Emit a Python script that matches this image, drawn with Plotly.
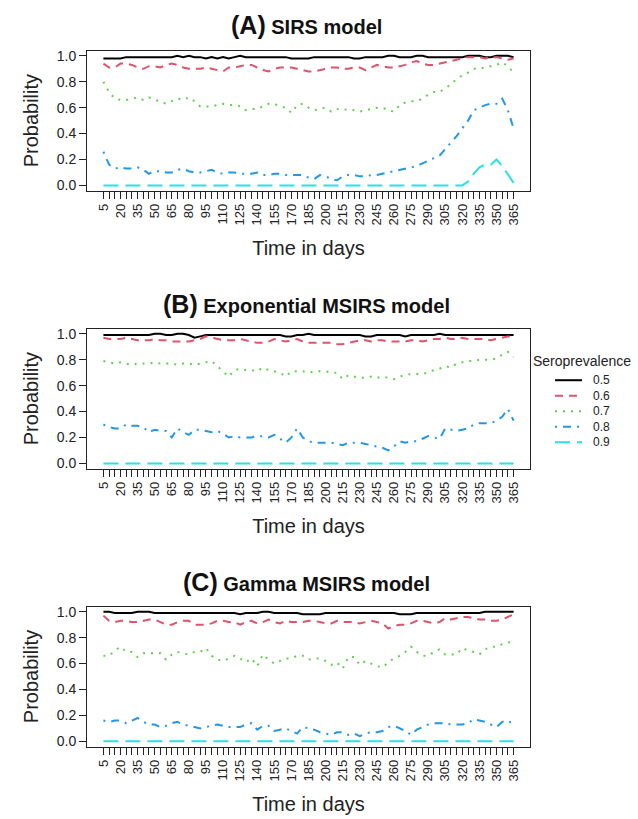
import plotly.graph_objects as go

days = list(range(5, 370, 5))  # 73 time points
tick_labels = [str(d) if (d - 5) % 15 == 0 else "" for d in days]

series_names = ["0.5", "0.6", "0.7", "0.8", "0.9"]
panel_titles = ["(A)|SIRS model", "(B)|Exponential MSIRS model", "(C)|Gamma MSIRS model"]

# ---------------- Panel A: SIRS model ----------------
A_05 = [0.98,0.98,0.98,0.98,0.99,0.99,0.99,0.99,0.99,0.99,
        0.99,0.99,0.99,1.00,0.99,1.00,0.99,0.99,0.98,0.99,
        0.98,0.99,0.98,0.99,1.00,0.99,0.99,0.99,0.99,0.99,
        0.99,0.99,0.99,0.98,0.98,0.98,0.98,0.99,0.99,0.99,
        0.99,0.99,0.99,0.99,0.98,0.98,0.99,0.99,0.99,0.99,
        1.00,1.00,0.99,0.99,0.99,1.00,1.00,0.99,0.99,0.99,
        0.99,0.99,0.99,0.99,1.00,1.00,1.00,0.99,0.99,1.00,
        1.00,1.00,0.99]
A_06 = [0.94,0.91,0.91,0.94,0.94,0.93,0.91,0.90,0.92,0.92,
        0.91,0.93,0.94,0.93,0.91,0.90,0.90,0.90,0.91,0.90,
        0.89,0.88,0.91,0.91,0.92,0.93,0.93,0.91,0.89,0.88,
        0.90,0.91,0.91,0.91,0.90,0.89,0.88,0.88,0.89,0.90,
        0.91,0.91,0.90,0.90,0.91,0.91,0.89,0.91,0.93,0.92,
        0.91,0.91,0.92,0.93,0.95,0.96,0.94,0.93,0.93,0.94,
        0.95,0.96,0.97,0.98,0.99,0.99,0.99,0.98,0.99,0.99,
        0.98,0.97,0.98]
A_07 = [0.80,0.72,0.67,0.66,0.66,0.67,0.68,0.66,0.68,0.66,
        0.65,0.63,0.65,0.67,0.66,0.68,0.65,0.61,0.61,0.61,
        0.62,0.63,0.62,0.62,0.61,0.58,0.59,0.59,0.61,0.63,
        0.63,0.61,0.60,0.56,0.62,0.63,0.60,0.58,0.59,0.60,
        0.57,0.59,0.58,0.59,0.58,0.57,0.58,0.59,0.60,0.60,
        0.58,0.57,0.62,0.64,0.65,0.65,0.67,0.70,0.72,0.72,
        0.75,0.78,0.82,0.85,0.87,0.90,0.90,0.91,0.92,0.93,
        0.95,0.92,0.87]
A_08 = [0.26,0.16,0.13,0.14,0.13,0.13,0.14,0.12,0.09,0.11,
        0.11,0.10,0.10,0.12,0.13,0.11,0.10,0.10,0.11,0.12,
        0.10,0.09,0.10,0.10,0.09,0.09,0.09,0.10,0.08,0.08,
        0.09,0.09,0.08,0.08,0.08,0.08,0.06,0.05,0.08,0.07,
        0.05,0.04,0.07,0.08,0.08,0.07,0.07,0.08,0.08,0.09,
        0.10,0.11,0.12,0.13,0.14,0.15,0.17,0.19,0.21,0.23,
        0.28,0.33,0.38,0.44,0.50,0.58,0.60,0.62,0.63,0.63,
        0.67,0.58,0.44]
A_09 = [0.00]*64 + [0.03,0.09,0.14,0.16,0.16,0.20,0.15,0.08,0.02]

# ---------------- Panel B: Exponential MSIRS model ----------------
B_05 = [0.99,0.99,0.99,0.99,0.99,0.99,0.99,0.99,0.99,1.00,
        1.00,0.99,0.99,1.00,1.00,0.99,0.97,0.98,0.99,0.99,
        0.99,0.99,0.99,0.99,0.99,0.99,0.99,0.99,0.99,0.99,
        0.99,0.99,0.98,0.98,0.99,0.99,1.00,0.99,0.99,0.99,
        0.99,0.99,0.99,0.99,0.99,0.99,0.98,0.98,0.99,0.99,
        0.99,0.99,0.99,0.98,0.99,0.99,0.99,0.99,0.99,1.00,
        0.99,0.99,0.99,0.99,0.99,0.99,0.99,0.99,0.99,0.99,
        0.99,0.99,0.99]
B_06 = [0.97,0.96,0.96,0.96,0.97,0.96,0.95,0.95,0.95,0.96,
        0.95,0.95,0.94,0.94,0.94,0.94,0.95,0.96,0.98,0.97,
        0.96,0.95,0.95,0.95,0.96,0.95,0.94,0.93,0.93,0.94,
        0.96,0.95,0.94,0.95,0.96,0.94,0.93,0.93,0.93,0.93,
        0.93,0.92,0.92,0.93,0.94,0.95,0.95,0.94,0.95,0.95,
        0.94,0.94,0.94,0.94,0.95,0.95,0.94,0.95,0.96,0.96,
        0.97,0.96,0.96,0.97,0.96,0.96,0.96,0.96,0.95,0.96,
        0.97,0.98,0.98]
B_07 = [0.79,0.78,0.77,0.78,0.77,0.76,0.77,0.77,0.77,0.78,
        0.77,0.77,0.77,0.76,0.77,0.77,0.76,0.77,0.78,0.79,
        0.75,0.71,0.67,0.72,0.73,0.72,0.72,0.71,0.74,0.72,
        0.71,0.70,0.67,0.71,0.71,0.71,0.70,0.71,0.71,0.71,
        0.70,0.70,0.65,0.68,0.67,0.66,0.66,0.67,0.66,0.67,
        0.66,0.65,0.67,0.68,0.69,0.69,0.69,0.70,0.72,0.73,
        0.75,0.74,0.77,0.78,0.79,0.79,0.80,0.80,0.80,0.81,
        0.84,0.86,0.82]
B_08 = [0.30,0.28,0.27,0.27,0.30,0.29,0.29,0.28,0.24,0.26,
        0.25,0.25,0.20,0.27,0.24,0.22,0.26,0.26,0.25,0.24,
        0.25,0.23,0.20,0.21,0.20,0.20,0.20,0.21,0.21,0.20,
        0.22,0.19,0.16,0.20,0.27,0.20,0.17,0.16,0.16,0.16,
        0.16,0.15,0.14,0.16,0.16,0.16,0.15,0.14,0.13,0.12,
        0.10,0.13,0.17,0.16,0.17,0.17,0.19,0.21,0.20,0.19,
        0.27,0.26,0.25,0.26,0.27,0.30,0.31,0.31,0.31,0.33,
        0.36,0.42,0.33]
B_09 = [0.00]*73

# ---------------- Panel C: Gamma MSIRS model ----------------
C_05 = [1.00,1.00,0.99,0.99,0.99,0.99,1.00,1.00,1.00,0.99,
        0.99,0.99,0.99,0.99,0.99,0.99,0.99,0.99,0.99,0.99,
        0.99,0.99,0.99,0.99,0.98,0.99,0.99,0.99,1.00,1.00,
        0.99,0.99,0.99,0.99,0.99,0.98,0.98,0.98,0.98,0.99,
        0.99,0.99,0.99,0.99,0.99,0.99,0.99,0.99,0.99,0.99,
        0.99,0.99,0.98,0.98,0.98,0.99,0.99,0.99,0.99,0.99,
        0.99,0.99,0.99,0.99,0.99,0.99,0.99,1.00,1.00,1.00,
        1.00,1.00,1.00]
C_06 = [0.97,0.93,0.92,0.93,0.93,0.92,0.92,0.93,0.94,0.94,
        0.92,0.90,0.90,0.92,0.93,0.93,0.90,0.90,0.90,0.91,
        0.93,0.93,0.92,0.92,0.90,0.92,0.93,0.91,0.92,0.94,
        0.92,0.91,0.93,0.92,0.92,0.92,0.93,0.93,0.92,0.91,
        0.91,0.93,0.92,0.92,0.92,0.91,0.92,0.93,0.92,0.91,
        0.87,0.89,0.90,0.90,0.91,0.93,0.93,0.92,0.91,0.92,
        0.95,0.94,0.95,0.96,0.96,0.95,0.94,0.94,0.93,0.93,
        0.94,0.96,0.98]
C_07 = [0.66,0.66,0.70,0.73,0.69,0.69,0.65,0.68,0.68,0.68,
        0.68,0.63,0.67,0.69,0.68,0.67,0.69,0.69,0.72,0.66,
        0.63,0.62,0.64,0.66,0.64,0.61,0.64,0.58,0.67,0.63,
        0.60,0.62,0.64,0.64,0.66,0.66,0.63,0.64,0.64,0.62,
        0.59,0.61,0.56,0.65,0.65,0.59,0.62,0.60,0.58,0.57,
        0.61,0.64,0.66,0.69,0.73,0.69,0.66,0.66,0.69,0.71,
        0.67,0.67,0.67,0.72,0.70,0.69,0.67,0.71,0.73,0.73,
        0.75,0.76,0.78]
C_08 = [0.16,0.15,0.16,0.16,0.14,0.16,0.18,0.15,0.13,0.13,
        0.11,0.12,0.14,0.15,0.13,0.12,0.11,0.10,0.11,0.12,
        0.13,0.12,0.11,0.11,0.11,0.13,0.14,0.09,0.12,0.12,
        0.08,0.09,0.10,0.08,0.06,0.11,0.10,0.09,0.07,0.06,
        0.05,0.07,0.07,0.05,0.06,0.04,0.06,0.07,0.07,0.08,
        0.11,0.12,0.10,0.08,0.05,0.09,0.11,0.13,0.14,0.14,
        0.14,0.13,0.13,0.13,0.14,0.17,0.16,0.15,0.13,0.11,
        0.15,0.16,0.13]
C_09 = [0.00]*73

panels = [
    [A_05, A_06, A_07, A_08, A_09],
    [B_05, B_06, B_07, B_08, B_09],
    [C_05, C_06, C_07, C_08, C_09],
]

colors = ["#000000", "#DF536B", "#61D04F", "#2297E6", "#28E2E5"]
dashes = ["solid", "8px,6px", "2px,6px", "2px,6px,8px,6px", "15px,7px"]

W, H = 638, 819
FONT = "Liberation Sans, Arial, sans-serif"

def px(x):
    return x / W

def py(y):
    return 1 - y / H

# plot boxes (pixel rows): top, bottom
boxes = [(48, 189), (328, 469), (608, 749)]
box_left, box_right = 87, 530
title_y = [22, 303, 583]

fig = go.Figure()
for i, series in enumerate(panels):
    ax = "" if i == 0 else str(i + 1)
    for j, vals in enumerate(series):
        fig.add_trace(go.Scatter(
            x=days, y=vals, mode="lines", name=series_names[j],
            line=dict(color=colors[j], width=2, dash=dashes[j]),
            xaxis="x" + ax, yaxis="y" + ax, showlegend=False,
            hoverinfo="x+y+name",
        ))

layout = dict(
    width=W, height=H,
    margin=dict(l=0, r=0, t=0, b=0),
    paper_bgcolor="white", plot_bgcolor="white",
    font=dict(family=FONT, color="#222"),
    showlegend=False,
)
annotations = []
shapes = []
for i, (top, bot) in enumerate(boxes):
    ax = "" if i == 0 else str(i + 1)
    layout["xaxis" + ax] = dict(
        domain=[px(box_left), px(box_right)],
        anchor="y" + ax,
        range=[-9.4, 379.4],
        tickmode="array", tickvals=days, ticktext=tick_labels,
        tickangle=-90, ticks="outside", ticklen=7, tickwidth=1, tickcolor="#222",
        tickfont=dict(size=13, family=FONT, color="#222"),
        showline=True, linecolor="#222", linewidth=1, mirror=True,
        showgrid=False, zeroline=False,
        title=dict(text="Time in days", font=dict(size=20, family=FONT, color="#222"), standoff=16),
    )
    layout["yaxis" + ax] = dict(
        domain=[py(bot), py(top)],
        anchor="x" + ax,
        range=[-0.04, 1.04],
        tickmode="array", tickvals=[0, 0.2, 0.4, 0.6, 0.8, 1.0],
        ticktext=["0.0", "0.2", "0.4", "0.6", "0.8", "1.0"],
        ticks="outside", ticklen=7, tickwidth=1, tickcolor="#222",
        tickfont=dict(size=14, family=FONT, color="#222"),
        showline=True, linecolor="#222", linewidth=1, mirror=True,
        showgrid=False, zeroline=False,
        title=dict(text="Probability", font=dict(size=20, family=FONT, color="#222"), standoff=12),
    )
    lab, rest = panel_titles[i].split("|")
    annotations.append(dict(
        xref="paper", yref="paper", x=px(306), y=py(title_y[i]),
        xanchor="center", yanchor="middle", showarrow=False,
        text=f"<b><span style='font-size:25px'>{lab}</span> {rest}</b>",
        font=dict(size=20, family=FONT, color="#111"),
    ))

# legend (drawn beside panel B): title, line samples, and one multi-line label block
annotations.append(dict(
    xref="paper", yref="paper", x=px(531), y=py(361),
    xanchor="left", yanchor="middle", showarrow=False,
    text="Seroprevalence", font=dict(size=14, family=FONT, color="#222"),
))
leg_font = 12
row_h = leg_font * 1.3
row0 = 380
row_y = [row0 + k * row_h for k in range(len(series_names))]
for j, name in enumerate(series_names):
    shapes.append(dict(
        type="line", xref="paper", yref="paper",
        x0=px(555), x1=px(582), y0=py(row_y[j]), y1=py(row_y[j]),
        line=dict(color=colors[j], width=2, dash=dashes[j]),
    ))
annotations.append(dict(
    xref="paper", yref="paper", x=px(591), y=py((row_y[0] + row_y[-1]) / 2),
    xanchor="left", yanchor="middle", align="left", showarrow=False,
    text="<br>".join(series_names), font=dict(size=leg_font, family=FONT, color="#222"),
))

layout["annotations"] = annotations
layout["shapes"] = shapes
fig.update_layout(**layout)
fig.write_html("out.html")
